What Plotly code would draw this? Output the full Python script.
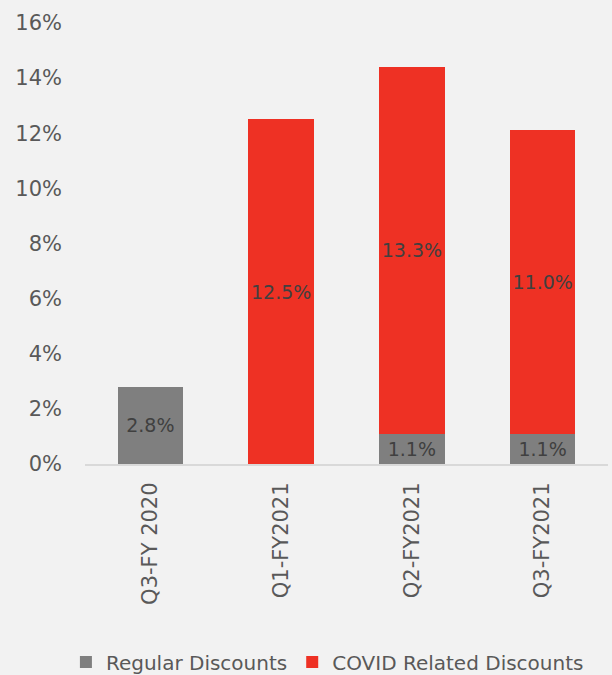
import plotly.graph_objects as go

categories = ["Q3-FY 2020", "Q1-FY2021", "Q2-FY2021", "Q3-FY2021"]
regular = [2.8, None, 1.1, 1.1]
covid = [None, 12.5, 13.3, 11.0]
y_ticks = [0, 2, 4, 6, 8, 10, 12, 14, 16]
y_tick_labels = [f"{v}%" for v in y_ticks]

FONT = "DejaVu Sans"

fig = go.Figure()
fig.add_trace(go.Bar(
    name="Regular Discounts", x=categories, y=regular,
    marker=dict(color="#7f7f7f", line=dict(width=0)),
    text=[f"{v:.1f}%" if v is not None else "" for v in regular],
    textposition="inside", insidetextanchor="middle", textangle=0,
    textfont=dict(family=FONT, size=19, color="#404040"),
))
fig.add_trace(go.Bar(
    name="COVID Related Discounts", x=categories, y=covid,
    marker=dict(color="#ee3124", line=dict(width=0)),
    text=[f"{v:.1f}%" if v is not None else "" for v in covid],
    textposition="inside", insidetextanchor="middle", textangle=0,
    textfont=dict(family=FONT, size=19, color="#404040"),
))

fig.update_layout(
    barmode="stack", bargap=0.5,
    width=612, height=675,
    paper_bgcolor="#f2f2f2", plot_bgcolor="#f2f2f2",
    margin=dict(l=85, r=4, t=23, b=211, autoexpand=False),
    font=dict(family=FONT, size=20, color="#595959"),
    uniformtext=dict(mode=False),
    xaxis=dict(showgrid=False, showline=True, linecolor="#d9d9d9", linewidth=2,
               tickangle=-90, ticks="", tickfont=dict(size=21, color="#595959"),
               ticklabelstandoff=8, automargin=False),
    yaxis=dict(range=[0, 16], tickvals=y_ticks, ticktext=y_tick_labels,
               showgrid=False, zeroline=False, showline=False, ticks="",
               tickfont=dict(size=21, color="#595959"), ticklabelstandoff=22,
               automargin=False),
    legend=dict(orientation="h", x=0.535, xref="container", xanchor="center",
                y=1 - 662 / 675, yref="container", yanchor="middle",
                font=dict(size=20, color="#595959"), itemwidth=30,
                entrywidthmode="pixels", entrywidth=0,
                traceorder="normal", bgcolor="rgba(0,0,0,0)"),
    showlegend=True,
)
fig.update_traces(constraintext="none", cliponaxis=False)

fig.write_html("out.html", config={"displayModeBar": False},
               post_script="document.body.style.margin='0';document.body.style.background='#f2f2f2';")
